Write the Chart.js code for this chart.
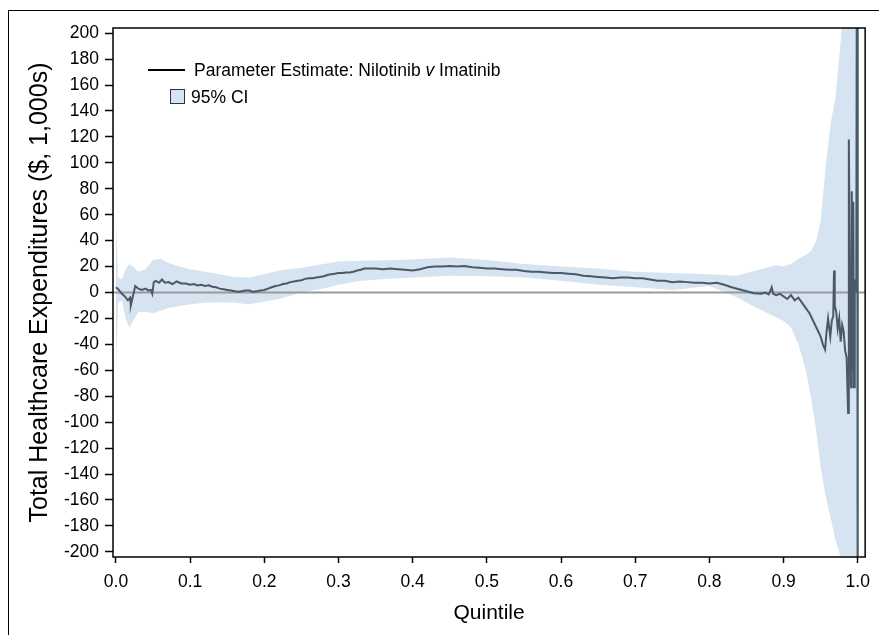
<!DOCTYPE html>
<html>
<head>
<meta charset="utf-8">
<script src="https://cdn.jsdelivr.net/npm/chart.js@4/dist/chart.umd.min.js"></script>
<style>
  html, body { margin:0; padding:0; background:#fff; }
  #wrap { position:relative; width:879px; height:635px; font-family:'Liberation Sans', Arial, sans-serif; color:#000; }
  #frame { position:absolute; left:8px; top:10px; right:0; bottom:0; border-top:1.5px solid #000; border-left:1.5px solid #000; }
  #chart { position:absolute; left:0; top:0; }
  .leg { position:absolute; font-size:17.5px; line-height:20px; white-space:nowrap; }
  #legLine { position:absolute; left:148px; top:69px; width:37px; height:2px; background:#000; }
  #legBox { position:absolute; left:170px; top:89px; width:13px; height:13px; border:1.5px solid #333; background:#d5e4f0; }
</style>
</head>
<body>
<div id="wrap">
  <div id="frame"></div>
  <canvas id="chart" width="879" height="635"></canvas>
  <div id="legLine"></div>
  <div class="leg" style="left:194px; top:60px">Parameter Estimate: Nilotinib <i>v</i> Imatinib</div>
  <div id="legBox"></div>
  <div class="leg" style="left:191px; top:87px">95% CI</div>
</div>
<script>
// ── axes ──
const xTicks = [0, 0.1, 0.2, 0.3, 0.4, 0.5, 0.6, 0.7, 0.8, 0.9, 1.0];
const yTicks = [-200, -180, -160, -140, -120, -100, -80, -60, -40, -20, 0, 20, 40, 60, 80, 100, 120, 140, 160, 180, 200];
const xMin = -0.004, xMax = 1.01, yMin = -204, yMax = 204;

// ── parameter estimate (nilotinib v imatinib, $1,000s) ──
const estX = [0.000, 0.004, 0.008, 0.012, 0.016, 0.019, 0.020, 0.022, 0.026, 0.030, 0.035, 0.040, 0.044, 0.047, 0.049,
  0.051, 0.054, 0.058, 0.062, 0.066, 0.071, 0.076, 0.082, 0.088, 0.094, 0.100, 0.105, 0.110, 0.115, 0.120, 0.125, 0.130,
  0.135, 0.140, 0.145, 0.150, 0.155, 0.160, 0.165, 0.170, 0.175, 0.180, 0.185, 0.190, 0.195, 0.200, 0.205, 0.210, 0.215,
  0.220, 0.225, 0.230, 0.235, 0.240, 0.245, 0.250, 0.255, 0.260, 0.265, 0.270, 0.275, 0.280, 0.285, 0.290, 0.295, 0.300,
  0.305, 0.310, 0.315, 0.320, 0.325, 0.330, 0.335, 0.340, 0.345, 0.350, 0.36, 0.37, 0.38, 0.39, 0.40, 0.41, 0.42, 0.43,
  0.44, 0.45, 0.46, 0.47, 0.48, 0.49, 0.50, 0.51, 0.52, 0.53, 0.54, 0.55, 0.56, 0.57, 0.58, 0.59, 0.60, 0.61, 0.62, 0.63,
  0.64, 0.65, 0.66, 0.67, 0.68, 0.69, 0.70, 0.71, 0.72, 0.73, 0.74, 0.75, 0.76, 0.77, 0.78, 0.79, 0.80, 0.81, 0.82, 0.83,
  0.84, 0.85, 0.86, 0.87, 0.875, 0.88, 0.882, 0.884, 0.886, 0.89, 0.895, 0.90, 0.905, 0.91, 0.915, 0.92, 0.925, 0.93,
  0.935, 0.94, 0.945, 0.95, 0.953, 0.956, 0.958, 0.960, 0.963, 0.965, 0.967, 0.968, 0.969, 0.971, 0.973, 0.975, 0.977,
  0.979, 0.981, 0.983, 0.985, 0.987, 0.988, 0.989, 0.990, 0.991, 0.992, 0.993, 0.994, 0.995, 0.996, 0.998, 0.9992, 1.0];
const estY = [4, 2, -1, -3, -6, -4, -10, -5, 5, 3, 2, 3, 1.5, 2, -1,
  8, 9, 7.5, 10, 7.5, 8, 6.5, 8.5, 7, 7, 6, 6.5, 5.5, 6, 5, 5.5, 4.5,
  4, 3, 2.5, 2, 1.5, 1, 0.5, 1, 1.5, 1.5, 0.5, 1, 1.5, 2, 3, 4, 5,
  5.5, 6.5, 7, 8, 8.5, 9, 9.5, 10.5, 11, 11, 11.5, 12, 12.5, 13.5, 14, 14.5, 15,
  15, 15.5, 15.5, 16, 17, 17.5, 18.5, 18.5, 18.5, 18.5, 18, 18.5, 18, 17.5, 17, 18, 19.5, 20,
  20, 20.5, 20, 20.5, 19.5, 19, 18.5, 18.5, 18, 17.5, 17.5, 16.5, 16, 16, 15.5, 15, 15, 14.5, 14, 13,
  12.5, 12, 11.5, 11, 11.5, 11.5, 11, 11, 10, 9, 9, 8, 8.5, 8, 7.5, 7.5, 7, 7.5, 6, 4,
  2.5, 1, -0.5, -1, 0, -1.5, 1, 4, -1, -2, -1, -3, -5, -2, -6, -4, -8, -12,
  -16, -22, -28, -34, -40, -44, -30, -20, -34, -22, -18, 17, -10, -15, -28, -20, -38,
  -25, -30, -45, -50, -93, 118, 40, -20, -73, 78, -60, 70, -73, 10, 0, 400, -400];

// ── 95% confidence interval ──
const ciX    = [0.000, 0.003, 0.008, 0.013, 0.018, 0.023, 0.030, 0.040, 0.050, 0.060, 0.070, 0.080, 0.100, 0.120, 0.140, 0.160,
  0.180, 0.200, 0.220, 0.250, 0.280, 0.300, 0.330, 0.380, 0.450, 0.500, 0.550, 0.600, 0.650, 0.700, 0.750, 0.800, 0.836,
  0.863, 0.890, 0.900, 0.910, 0.920, 0.930, 0.937, 0.944, 0.950, 0.957, 0.964, 0.970, 0.977, 0.985, 1.000];
const ciHigh = [55, 12, 10, 18, 22, 20, 16, 18, 25, 26, 23, 21, 18, 16, 14, 12,
  11.5, 14, 17, 19, 22, 24, 24.5, 25, 27, 25, 22, 20, 18.5, 16, 15, 14, 13,
  17, 21, 20, 22, 26, 29, 32, 40, 55, 99, 132, 150, 194, 260, 300];
const ciLow  = [-60, -8, -6, -20, -27, -22, -15, -15, -16, -14, -12, -11, -9, -8, -7.5, -8,
  -9, -7, -5, 0, 3, 6, 9, 11, 13, 12.5, 11.5, 9, 6, 4, 2, 5, -3.5,
  -11.5, -19, -22, -27, -40, -60, -81, -106, -135, -158, -175, -191, -204, -260, -300];

// ── reference line at zero ──
const refX = [xMin, xMax];
const refY = [0, 0];

const pts = (xs, ys) => xs.map((x, i) => ({ x, y: ys[i] }));

const FONT = { family: "'Liberation Sans', Arial, sans-serif", size: 17.5 };
const XTITLE = { family: "'Liberation Sans', Arial, sans-serif", size: 21 };
const YTITLE = { family: "'Liberation Sans', Arial, sans-serif", size: 25 };

// cadre noir autour de la zone de tracé
const boxPlugin = {
  id: 'box',
  afterDatasetsDraw(chart) {
    const { ctx, chartArea: a } = chart;
    ctx.save();
    ctx.strokeStyle = '#000'; ctx.lineWidth = 1.5;
    ctx.strokeRect(a.left, a.top, a.right - a.left, a.bottom - a.top);
    ctx.restore();
  }
};

new Chart(document.getElementById('chart'), {
  type: 'line',
  data: {
    datasets: [
      { data: pts(estX, estY), borderColor: '#4b5967', borderWidth: 2, pointRadius: 0, tension: 0, fill: false },
      { data: pts(refX, refY), borderColor: '#9a9a9a', borderWidth: 2, pointRadius: 0, fill: false },
      { data: pts(ciX, ciHigh), borderWidth: 0, borderColor: 'rgba(0,0,0,0)', pointRadius: 0, backgroundColor: '#d5e4f0', fill: '+1' },
      { data: pts(ciX, ciLow), borderWidth: 0, borderColor: 'rgba(0,0,0,0)', pointRadius: 0, fill: false }
    ]
  },
  options: {
    responsive: false, animation: false, events: [],
    layout: { padding: { left: 0, top: 28, right: 10, bottom: 0 } },
    plugins: { legend: { display: false }, tooltip: { enabled: false } },
    scales: {
      x: {
        type: 'linear', min: xMin, max: xMax,
        afterBuildTicks: s => { s.ticks = xTicks.map(v => ({ value: v })); },
        afterFit: s => { s.height = 78; },
        border: { display: false },
        grid: { drawOnChartArea: false, drawTicks: true, tickLength: 6, tickColor: '#000', tickWidth: 1.5 },
        ticks: { color: '#000', font: FONT, padding: 9, maxRotation: 0, callback: v => v.toFixed(1) },
        title: { display: true, text: 'Quintile', color: '#000', font: XTITLE, padding: { top: 0, bottom: 9 } }
      },
      y: {
        type: 'linear', min: yMin, max: yMax,
        afterBuildTicks: s => { s.ticks = yTicks.map(v => ({ value: v })); },
        afterFit: s => { s.width = 113; },
        border: { display: false },
        grid: { drawOnChartArea: false, drawTicks: true, tickLength: 8, tickColor: '#000', tickWidth: 1.5 },
        ticks: { color: '#000', font: FONT, padding: 6, callback: v => String(v) },
        title: { display: true, text: 'Total Healthcare Expenditures ($, 1,000s)', color: '#000', font: YTITLE, padding: { top: 25, bottom: 0 } }
      }
    }
  },
  plugins: [boxPlugin]
});
</script>
</body>
</html>
